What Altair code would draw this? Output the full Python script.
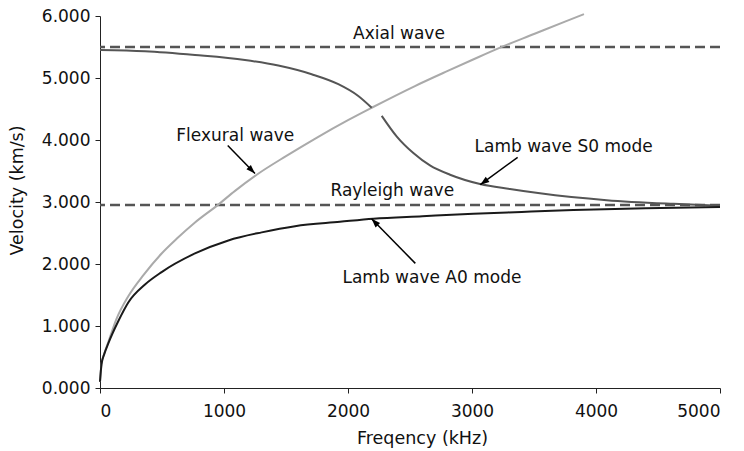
import altair as alt
import pandas as pd

# ---- data ----
flex_f = [0, 12, 35, 67, 130, 228, 350, 497, 620, 766, 949, 1089, 1264, 1500, 1750, 2000, 2191, 2540, 2800, 3000, 3226, 3500, 3750, 3903]
flex_v = [0.10, 0.38, 0.56, 0.74, 1.10, 1.48, 1.82, 2.17, 2.41, 2.67, 2.95, 3.18, 3.44, 3.74, 4.04, 4.32, 4.52, 4.87, 5.11, 5.29, 5.49, 5.71, 5.91, 6.03]

a0_f = [0, 12, 35, 67, 148, 228, 363, 497, 766, 1035, 1304, 1573, 1935, 2204, 2600, 3011, 3400, 3817, 4400, 5000]
a0_v = [0.10, 0.38, 0.55, 0.72, 1.08, 1.38, 1.67, 1.87, 2.17, 2.38, 2.51, 2.61, 2.68, 2.73, 2.77, 2.81, 2.84, 2.87, 2.90, 2.92]

s0a_f = [0, 363, 766, 1169, 1438, 1707, 1922, 2083, 2191]
s0a_v = [5.45, 5.43, 5.37, 5.29, 5.20, 5.06, 4.90, 4.71, 4.52]
s0b_f = [2272, 2392, 2527, 2661, 2823, 3065, 3306, 3548, 4086, 4624, 5000]
s0b_v = [4.39, 4.06, 3.79, 3.59, 3.44, 3.29, 3.21, 3.14, 3.03, 2.97, 2.94]

ref_names = ["Axial wave", "Rayleigh wave"]
ref_v = [5.50, 2.95]

label_text = ["Axial wave", "Flexural wave", "Lamb wave S0 mode", "Rayleigh wave", "Lamb wave A0 mode"]
label_f = [2411, 1091, 3739, 2357, 2677]
label_v = [5.625, 3.99, 3.80, 3.10, 1.70]

arrow_f = [1030, 3368, 2543]
arrow_v = [3.91, 3.72, 2.01]
arrow_f2 = [1250, 3067, 2190]
arrow_v2 = [3.46, 3.28, 2.73]
arrow_angle = [135, 234, 316]

x_ticks = [0, 1000, 2000, 3000, 4000, 5000]
y_ticks = [0, 1, 2, 3, 4, 5, 6]

# ---- tables ----
rows = []
for f, v in zip(flex_f, flex_v):
    rows.append({"series": "Flexural", "seg": "flex", "f": f, "v": v})
for f, v in zip(s0a_f, s0a_v):
    rows.append({"series": "S0", "seg": "s0a", "f": f, "v": v})
for f, v in zip(s0b_f, s0b_v):
    rows.append({"series": "S0", "seg": "s0b", "f": f, "v": v})
for f, v in zip(a0_f, a0_v):
    rows.append({"series": "A0", "seg": "a0", "f": f, "v": v})
lines_df = pd.DataFrame(rows)

ref_df = pd.DataFrame({"name": ref_names, "v": ref_v})
lab_df = pd.DataFrame({"text": label_text, "f": label_f, "v": label_v})
arr_df = pd.DataFrame({"f": arrow_f, "v": arrow_v, "f2": arrow_f2, "v2": arrow_v2, "angle": arrow_angle})

FONT = "DejaVu Sans"

xscale = alt.Scale(domain=[0, 5000], nice=False, zero=True)
yscale = alt.Scale(domain=[0, 6], nice=False, zero=True)

x_axis = alt.Axis(values=x_ticks, format="d", title="Freqency (kHz)", grid=False,
                  tickSize=5, labelPadding=10, titleX=322, titleY=55,
                  titleBaseline="alphabetic", titleAlign="center")
y_axis = alt.Axis(values=y_ticks, format=".3f", title="Velocity (km/s)", grid=False,
                  tickSize=5, labelPadding=5, titleX=-78, titleY=174, titleAngle=270,
                  titleBaseline="alphabetic", titleAlign="center")

refs = alt.Chart(ref_df).mark_rule(strokeDash=[10, 5], strokeWidth=2.5, color="#555555").encode(
    y=alt.Y("v:Q", scale=yscale, axis=y_axis)
)

lines = alt.Chart(lines_df).mark_line(strokeWidth=2, interpolate="monotone").encode(
    x=alt.X("f:Q", scale=xscale, axis=x_axis),
    y=alt.Y("v:Q", scale=yscale, axis=y_axis),
    color=alt.Color("series:N", scale=alt.Scale(domain=["S0", "Flexural", "A0"],
                                                 range=["#555555", "#aaaaaa", "#1a1a1a"]), legend=None),
    detail="seg:N",
    order="f:Q",
)

arrows = alt.Chart(arr_df).mark_rule(strokeWidth=1.5, color="#000000").encode(
    x=alt.X("f:Q", scale=xscale, axis=x_axis),
    y=alt.Y("v:Q", scale=yscale, axis=y_axis),
    x2="f2:Q",
    y2="v2:Q",
)

heads = alt.Chart(arr_df).mark_point(shape="M0,0L0.35,1L-0.35,1Z", filled=True, size=324,
                                     color="#000000", opacity=1, strokeWidth=0).encode(
    x=alt.X("f2:Q", scale=xscale, axis=x_axis),
    y=alt.Y("v2:Q", scale=yscale, axis=y_axis),
    angle=alt.Angle("angle:Q", scale=None),
)

labels = alt.Chart(lab_df).mark_text(font=FONT, fontSize=17, align="center",
                                     baseline="alphabetic", color="#111111").encode(
    x=alt.X("f:Q", scale=xscale, axis=x_axis),
    y=alt.Y("v:Q", scale=yscale, axis=y_axis),
    text="text:N",
)

chart = alt.layer(refs, lines, arrows, heads, labels).properties(
    width=620, height=372,
    autosize=alt.AutoSizeParams(type="none"),
    padding={"left": 92, "top": 8, "right": 16, "bottom": 64},
    background="white",
).configure_view(stroke=None).configure_axis(
    labelFont=FONT, labelFontSize=17, labelColor="#111111",
    titleFont=FONT, titleFontSize=17.5, titleColor="#111111", titleFontWeight="normal",
    domainColor="#222222", tickColor="#222222", domainWidth=1, tickWidth=1,
)

chart.save("out.html", embed_options={"renderer": "svg", "actions": False})
